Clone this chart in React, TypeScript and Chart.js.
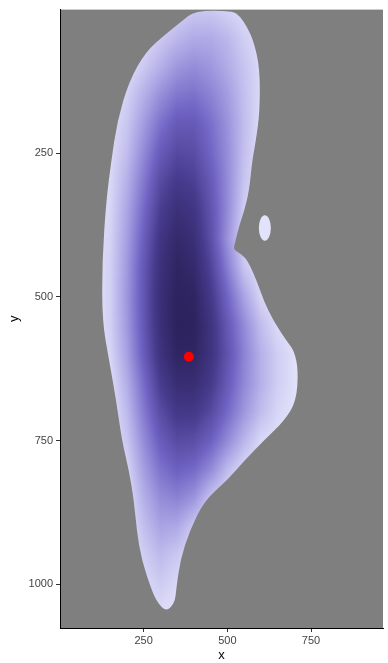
import React, { useEffect, useRef } from "react";
import { Chart, registerables } from "chart.js";

Chart.register(...registerables);

// Axis ranges and ticks
const xRange = [0, 965];
const yRange = [0, 1076];
const xTicks = [250, 500, 750];
const yTicks = [250, 500, 750, 1000];

// Density grid (relative density)
const gridX = [100, 150, 200, 250, 300, 350, 400, 450, 500, 550, 600, 650, 700, 750];
const gridY = [0, 50, 100, 150, 200, 250, 300, 350, 400, 450, 500, 550, 600, 650, 700, 750, 800, 850, 900, 950, 1000, 1050];
const density = [
  [0, 0, 0, 0, 0.02, 0.06, 0.1, 0.1, 0.06, 0.02, 0, 0, 0, 0],
  [0, 0, 0, 0.03, 0.1, 0.17, 0.22, 0.22, 0.17, 0.08, 0.02, 0, 0, 0],
  [0, 0, 0.02, 0.1, 0.2, 0.3, 0.34, 0.3, 0.22, 0.12, 0.03, 0, 0, 0],
  [0, 0.01, 0.07, 0.2, 0.33, 0.43, 0.45, 0.38, 0.28, 0.14, 0.03, 0, 0, 0],
  [0, 0.02, 0.11, 0.28, 0.45, 0.56, 0.56, 0.46, 0.32, 0.15, 0.02, 0, 0, 0],
  [0, 0.03, 0.15, 0.35, 0.55, 0.66, 0.64, 0.5, 0.34, 0.14, 0.01, 0, 0, 0],
  [0, 0.04, 0.2, 0.42, 0.65, 0.76, 0.72, 0.56, 0.35, 0.12, 0, 0, 0, 0],
  [0, 0.05, 0.24, 0.48, 0.73, 0.85, 0.8, 0.6, 0.35, 0.08, 0, 0, 0, 0],
  [0, 0.06, 0.27, 0.53, 0.8, 0.92, 0.86, 0.63, 0.32, 0.05, 0, 0, 0, 0],
  [0, 0.07, 0.29, 0.57, 0.84, 0.97, 0.92, 0.7, 0.4, 0.12, 0, 0, 0, 0],
  [0, 0.07, 0.3, 0.58, 0.86, 0.99, 0.97, 0.77, 0.5, 0.25, 0.05, 0, 0, 0],
  [0, 0.07, 0.29, 0.57, 0.85, 1.0, 0.99, 0.82, 0.57, 0.35, 0.15, 0.03, 0, 0],
  [0, 0.05, 0.26, 0.54, 0.82, 0.97, 0.96, 0.82, 0.6, 0.38, 0.2, 0.08, 0.01, 0],
  [0, 0.02, 0.21, 0.47, 0.74, 0.88, 0.88, 0.76, 0.56, 0.36, 0.2, 0.08, 0.01, 0],
  [0, 0, 0.16, 0.41, 0.64, 0.77, 0.77, 0.66, 0.48, 0.3, 0.15, 0.05, 0, 0],
  [0, 0, 0.11, 0.34, 0.54, 0.65, 0.63, 0.52, 0.35, 0.18, 0.04, 0, 0, 0],
  [0, 0, 0.05, 0.27, 0.44, 0.52, 0.48, 0.35, 0.16, 0.03, 0, 0, 0, 0],
  [0, 0, 0.02, 0.2, 0.34, 0.38, 0.31, 0.12, 0.02, 0, 0, 0, 0, 0],
  [0, 0, 0, 0.14, 0.25, 0.23, 0.1, 0.02, 0, 0, 0, 0, 0, 0],
  [0, 0, 0, 0.08, 0.16, 0.1, 0.03, 0, 0, 0, 0, 0, 0, 0],
  [0, 0, 0, 0.04, 0.09, 0.04, 0, 0, 0, 0, 0, 0, 0, 0],
  [0, 0, 0, 0, 0.02, 0, 0, 0, 0, 0, 0, 0, 0, 0],
];

// Outline of the region where density is drawn (clockwise)
const outlineX = [403, 515, 538, 559, 579, 597, 597, 585, 574, 565, 550, 535, 524, 518, 532, 553, 568, 588, 609, 638, 676, 700, 712, 706, 671, 609, 550, 500, 432, 388, 359, 347, 344, 332, 318, 303, 288, 274, 244, 229, 221, 206, 185, 168, 147, 126, 126, 138, 153, 171, 206, 256, 315, 362];
const outlineY = [2, 2, 12, 30, 56, 102, 177, 229, 264, 316, 351, 377, 403, 417, 422, 431, 446, 472, 507, 542, 576, 594, 628, 681, 715, 750, 785, 819, 854, 906, 958, 1010, 1028, 1040, 1045, 1040, 1028, 1010, 958, 906, 854, 802, 750, 681, 611, 542, 438, 333, 264, 194, 125, 73, 43, 21];

// Small detached island
const islandCenter = [612, 380];
const islandRadius = [18, 22];

// Highlighted point
const pointX = [385];
const pointY = [604];

// Fill colour scale
const stopPos = [0, 0.25, 0.5, 0.75, 1];
const stopColors = [
  [226, 226, 250],
  [170, 164, 228],
  [112, 100, 196],
  [70, 58, 140],
  [44, 34, 92],
];

function sampleDensity(x: number, y: number): number {
  const nx = gridX.length, ny = gridY.length;
  if (x <= gridX[0] || x >= gridX[nx - 1] || y < gridY[0] || y >= gridY[ny - 1]) return 0;
  let i = 0;
  while (i < nx - 2 && x > gridX[i + 1]) i++;
  let j = 0;
  while (j < ny - 2 && y > gridY[j + 1]) j++;
  const tx = (x - gridX[i]) / (gridX[i + 1] - gridX[i]);
  const ty = (y - gridY[j]) / (gridY[j + 1] - gridY[j]);
  const a = density[j][i], b = density[j][i + 1], c = density[j + 1][i], d = density[j + 1][i + 1];
  return (a * (1 - tx) + b * tx) * (1 - ty) + (c * (1 - tx) + d * tx) * ty;
}

function colorFor(v: number): number[] {
  const t = Math.max(0, Math.min(1, v));
  let k = 0;
  while (k < stopPos.length - 2 && t > stopPos[k + 1]) k++;
  const f = (t - stopPos[k]) / (stopPos[k + 1] - stopPos[k]);
  const c0 = stopColors[k], c1 = stopColors[k + 1];
  return [0, 1, 2].map((q) => Math.round(c0[q] + (c1[q] - c0[q]) * f));
}

const backgroundPlugin = {
  id: "panelBackground",
  beforeDraw(chart: any) {
    const { ctx, chartArea: a } = chart;
    ctx.save();
    ctx.fillStyle = "#7f7f7f";
    ctx.fillRect(a.left, a.top, a.right - a.left, a.bottom - a.top);
    ctx.restore();
  },
};

const densityPlugin = {
  id: "densityRaster",
  beforeDatasetsDraw(chart: any) {
    const { ctx, chartArea: a, scales } = chart;
    const xs = scales.x, ys = scales.y;
    const w = Math.ceil(a.right - a.left), h = Math.ceil(a.bottom - a.top);
    const off = document.createElement("canvas");
    off.width = w;
    off.height = h;
    const octx = off.getContext("2d")!;
    const img = octx.createImageData(w, h);
    for (let r = 0; r < h; r++) {
      const dy = ys.getValueForPixel(a.top + r + 0.5);
      for (let c = 0; c < w; c++) {
        const dx = xs.getValueForPixel(a.left + c + 0.5);
        const col = colorFor(sampleDensity(dx, dy));
        const p = (r * w + c) * 4;
        img.data[p] = col[0];
        img.data[p + 1] = col[1];
        img.data[p + 2] = col[2];
        img.data[p + 3] = 255;
      }
    }
    octx.putImageData(img, 0, 0);

    const pts = outlineX.map((vx, k) => [xs.getPixelForValue(vx), ys.getPixelForValue(outlineY[k])]);
    const n = pts.length;
    const mid = (p: number[], q: number[]) => [(p[0] + q[0]) / 2, (p[1] + q[1]) / 2];
    ctx.save();
    ctx.beginPath();
    const start = mid(pts[n - 1], pts[0]);
    ctx.moveTo(start[0], start[1]);
    for (let k = 0; k < n; k++) {
      const m = mid(pts[k], pts[(k + 1) % n]);
      ctx.quadraticCurveTo(pts[k][0], pts[k][1], m[0], m[1]);
    }
    ctx.closePath();
    const icx = xs.getPixelForValue(islandCenter[0]);
    const icy = ys.getPixelForValue(islandCenter[1]);
    const irx = Math.abs(xs.getPixelForValue(islandCenter[0] + islandRadius[0]) - icx);
    const iry = Math.abs(ys.getPixelForValue(islandCenter[1] + islandRadius[1]) - icy);
    ctx.moveTo(icx + irx, icy);
    ctx.ellipse(icx, icy, irx, iry, 0, 0, Math.PI * 2);
    ctx.clip();
    ctx.drawImage(off, a.left, a.top);
    ctx.restore();
  },
};

export default function App() {
  const ref = useRef<HTMLCanvasElement | null>(null);
  useEffect(() => {
    if (!ref.current) return;
    const tickFont = { family: "'Liberation Sans', Arial, sans-serif", size: 11 };
    const titleFont = { family: "'Liberation Sans', Arial, sans-serif", size: 13 };
    const chart = new Chart(ref.current, {
      type: "scatter",
      data: {
        datasets: [
          {
            data: pointX.map((x, i) => ({ x, y: pointY[i] })),
            backgroundColor: "#ff0000",
            borderWidth: 0,
            pointRadius: 5,
          },
        ],
      },
      options: {
        animation: false,
        responsive: false,
        devicePixelRatio: 1,
        layout: { padding: { top: 7, right: 0, left: 0, bottom: 0 } },
        plugins: { legend: { display: false }, tooltip: { enabled: false } },
        scales: {
          x: {
            type: "linear",
            min: xRange[0],
            max: xRange[1],
            afterBuildTicks: (s: any) => {
              s.ticks = xTicks.map((v) => ({ value: v }));
            },
            afterFit: (s: any) => {
              s.height = 35;
            },
            ticks: { font: tickFont, color: "#444444", padding: 2, maxRotation: 0, callback: (v: any) => String(v) },
            grid: { drawOnChartArea: false, drawTicks: true, tickLength: 4, color: "#333333" },
            border: { display: true, color: "#000000", width: 1 },
            title: { display: true, text: "x", font: titleFont, color: "#000000", padding: 0 },
          },
          y: {
            type: "linear",
            reverse: true,
            min: yRange[0],
            max: yRange[1],
            afterBuildTicks: (s: any) => {
              s.ticks = yTicks.map((v) => ({ value: v }));
            },
            afterFit: (s: any) => {
              s.width = 60;
            },
            ticks: { font: tickFont, color: "#444444", padding: 3, callback: (v: any) => String(v) },
            grid: { drawOnChartArea: false, drawTicks: true, tickLength: 4, color: "#333333" },
            border: { display: true, color: "#000000", width: 1 },
            title: { display: true, text: "y", font: titleFont, color: "#000000", padding: { top: 7, bottom: 0 } },
          },
        },
      },
      plugins: [backgroundPlugin, densityPlugin],
    });
    return () => chart.destroy();
  }, []);
  return (
    <div style={{ position: "fixed", left: 0, top: 0, width: 388, height: 663, background: "#ffffff" }}>
      <canvas ref={ref} width={388} height={663} style={{ display: "block" }} />
    </div>
  );
}
